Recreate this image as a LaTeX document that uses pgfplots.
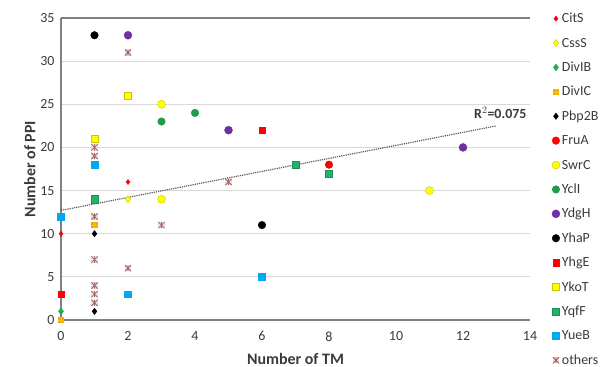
\documentclass[border=0pt]{standalone}
\usepackage{fontspec}
\setmainfont{Carlito}
\usepackage{pgfplots}
\pgfplotsset{compat=1.18}
\definecolor{cRed}{HTML}{FF0000}
\definecolor{cYel}{HTML}{FFFF00}
\definecolor{cYelD}{HTML}{C8C800}
\definecolor{cGrn}{HTML}{1AAF54}
\definecolor{cGrn2}{HTML}{1E9B4B}
\definecolor{cGrnSq}{HTML}{22B36A}
\definecolor{cOra}{HTML}{F5A800}
\definecolor{cPur}{HTML}{7030A0}
\definecolor{cBlu}{HTML}{00A8F0}
\definecolor{cOth}{HTML}{A06868}
\definecolor{cOthF}{HTML}{F4DADA}
\definecolor{gridc}{HTML}{D9D9D9}
\definecolor{axc}{HTML}{808080}
\definecolor{txtc}{HTML}{3A3A3A}
\pgfdeclareplotmark{xstar}{%
  \pgfpathrectangle{\pgfqpoint{-\pgfplotmarksize}{-\pgfplotmarksize}}{\pgfqpoint{2\pgfplotmarksize}{2\pgfplotmarksize}}%
  \pgfsetfillcolor{cOthF}\pgfusepath{fill}%
  \pgfpathmoveto{\pgfqpoint{-\pgfplotmarksize}{-\pgfplotmarksize}}%
  \pgfpathlineto{\pgfqpoint{\pgfplotmarksize}{\pgfplotmarksize}}%
  \pgfpathmoveto{\pgfqpoint{-\pgfplotmarksize}{\pgfplotmarksize}}%
  \pgfpathlineto{\pgfqpoint{\pgfplotmarksize}{-\pgfplotmarksize}}%
  \pgfpathmoveto{\pgfqpoint{0pt}{-\pgfplotmarksize}}%
  \pgfpathlineto{\pgfqpoint{0pt}{\pgfplotmarksize}}%
  \pgfusepathqstroke}
\pgfdeclareplotmark{plussq}{%
  \pgfpathrectangle{\pgfqpoint{-\pgfplotmarksize}{-\pgfplotmarksize}}{\pgfqpoint{2\pgfplotmarksize}{2\pgfplotmarksize}}%
  \pgfusepathqfill
  \pgfsetstrokecolor{yellow!60!orange}%
  \pgfpathmoveto{\pgfqpoint{-\pgfplotmarksize}{0pt}}%
  \pgfpathlineto{\pgfqpoint{\pgfplotmarksize}{0pt}}%
  \pgfpathmoveto{\pgfqpoint{0pt}{-\pgfplotmarksize}}%
  \pgfpathlineto{\pgfqpoint{0pt}{\pgfplotmarksize}}%
  \pgfusepathqstroke}
\begin{document}
\begin{tikzpicture}
\begin{axis}[
  name=ax,
  scale only axis,
  width=469bp, height=302bp,
  xmin=0, xmax=14, ymin=0, ymax=35,
  xtick={0,2,...,14}, ytick={0,5,...,35},
  axis x line*=bottom, axis y line*=left,
  axis line style={axc, line width=1.2bp},
  x axis line style={-}, y axis line style={-},
  major tick length=0pt,
  ymajorgrids, grid style={gridc, line width=1.2bp},
  tick label style={font=\fontsize{14}{16}\selectfont, text=txtc},
  /pgf/number format/assume math mode=true,
  xticklabel style={yshift=-8bp},
  yticklabel style={xshift=-3bp},
  xlabel={\textbf{Number of TM}},
  ylabel={\textbf{Number of PPI}},
  label style={font=\fontsize{16}{18}\selectfont, text=txtc},
  xlabel style={yshift=-5bp},
  ylabel style={yshift=-2bp},
  clip=false,
  legend style={at={(1.04,1.025)}, anchor=north west, draw=none, fill=none,
    font=\fontsize{14}{16}\selectfont, text=txtc,
    nodes={inner sep=0pt, text height=10bp, text depth=2bp, anchor=west},
    row sep=12.4bp, column sep=2bp},
  legend cell align=left,
  legend image code/.code={\draw[#1] plot coordinates {(3bp,0bp)};},
]
\draw[axc, line width=1.2bp] (axis cs:0,35) -- (axis cs:14,35);
\addplot[only marks, mark=diamond*, mark size=2.6bp, color=cRed] coordinates {(0,10) (2,16)};
\addlegendentry{CitS}
\addplot[only marks, mark=diamond*, mark size=3.6bp, draw=cYelD, fill=cYel] coordinates {(2,14)};
\addlegendentry{CssS}
\addplot[only marks, mark=diamond*, mark size=3.4bp, color=cGrn] coordinates {(0,1)};
\addlegendentry{DivIB}
\addplot[only marks, mark=plussq, mark size=3.2bp, color=cOra] coordinates {(0,0) (1,11)};
\addlegendentry{DivIC}
\addplot[only marks, mark=diamond*, mark size=3.2bp, color=black] coordinates {(1,10) (1,1)};
\addlegendentry{Pbp2B}
\addplot[only marks, mark=*, mark size=3.8bp, color=cRed] coordinates {(8,18)};
\addlegendentry{FruA}
\addplot[only marks, mark=*, mark size=4bp, draw=cYelD, fill=cYel] coordinates {(3,25) (3,14) (11,15)};
\addlegendentry{SwrC}
\addplot[only marks, mark=*, mark size=3.8bp, color=cGrn2] coordinates {(3,23) (4,24)};
\addlegendentry{YclI}
\addplot[only marks, mark=*, mark size=4bp, color=cPur] coordinates {(2,33) (5,22) (12,20)};
\addlegendentry{YdgH}
\addplot[only marks, mark=*, mark size=3.8bp, color=black] coordinates {(1,33) (6,11)};
\addlegendentry{YhaP}
\addplot[only marks, mark=square*, mark size=3.2bp, color=cRed] coordinates {(0,3) (6,22)};
\addlegendentry{YhgE}
\addplot[only marks, mark=square*, mark size=3.4bp, draw=cYelD, fill=cYel] coordinates {(1,21) (2,26)};
\addlegendentry{YkoT}
\addplot[only marks, mark=square*, mark size=3.6bp, draw=cGrnSq!80!black, fill=cGrnSq] coordinates {(1,14) (7,18) (8,17)};
\addlegendentry{YqfF}
\addplot[only marks, mark=square*, mark size=3.4bp, color=cBlu] coordinates {(0,12) (1,18) (2,3) (6,5)};
\addlegendentry{YueB}
\addplot[only marks, mark=xstar, mark size=3.2bp, color=cOth, line width=0.8bp] coordinates {(1,20) (1,19) (1,12) (1,7) (1,4) (1,3) (1,2) (2,31) (2,6) (3,11) (5,16)};
\addlegendentry{others}
\addplot[no marks, densely dotted, line width=1.2bp, color=gray!70!black, forget plot] coordinates {(0,12.7) (13,22.5)};
\node[anchor=east, font=\fontsize{14}{16}\selectfont\bfseries, text=txtc] at (axis cs:14,24.0) {R$^2$=0.075};
\coordinate (O) at (rel axis cs:0,0);
\end{axis}
\pgfresetboundingbox
\path (O) ++(-61bp,-47bp) rectangle ++(606bp,367bp);
\end{tikzpicture}
\end{document}
